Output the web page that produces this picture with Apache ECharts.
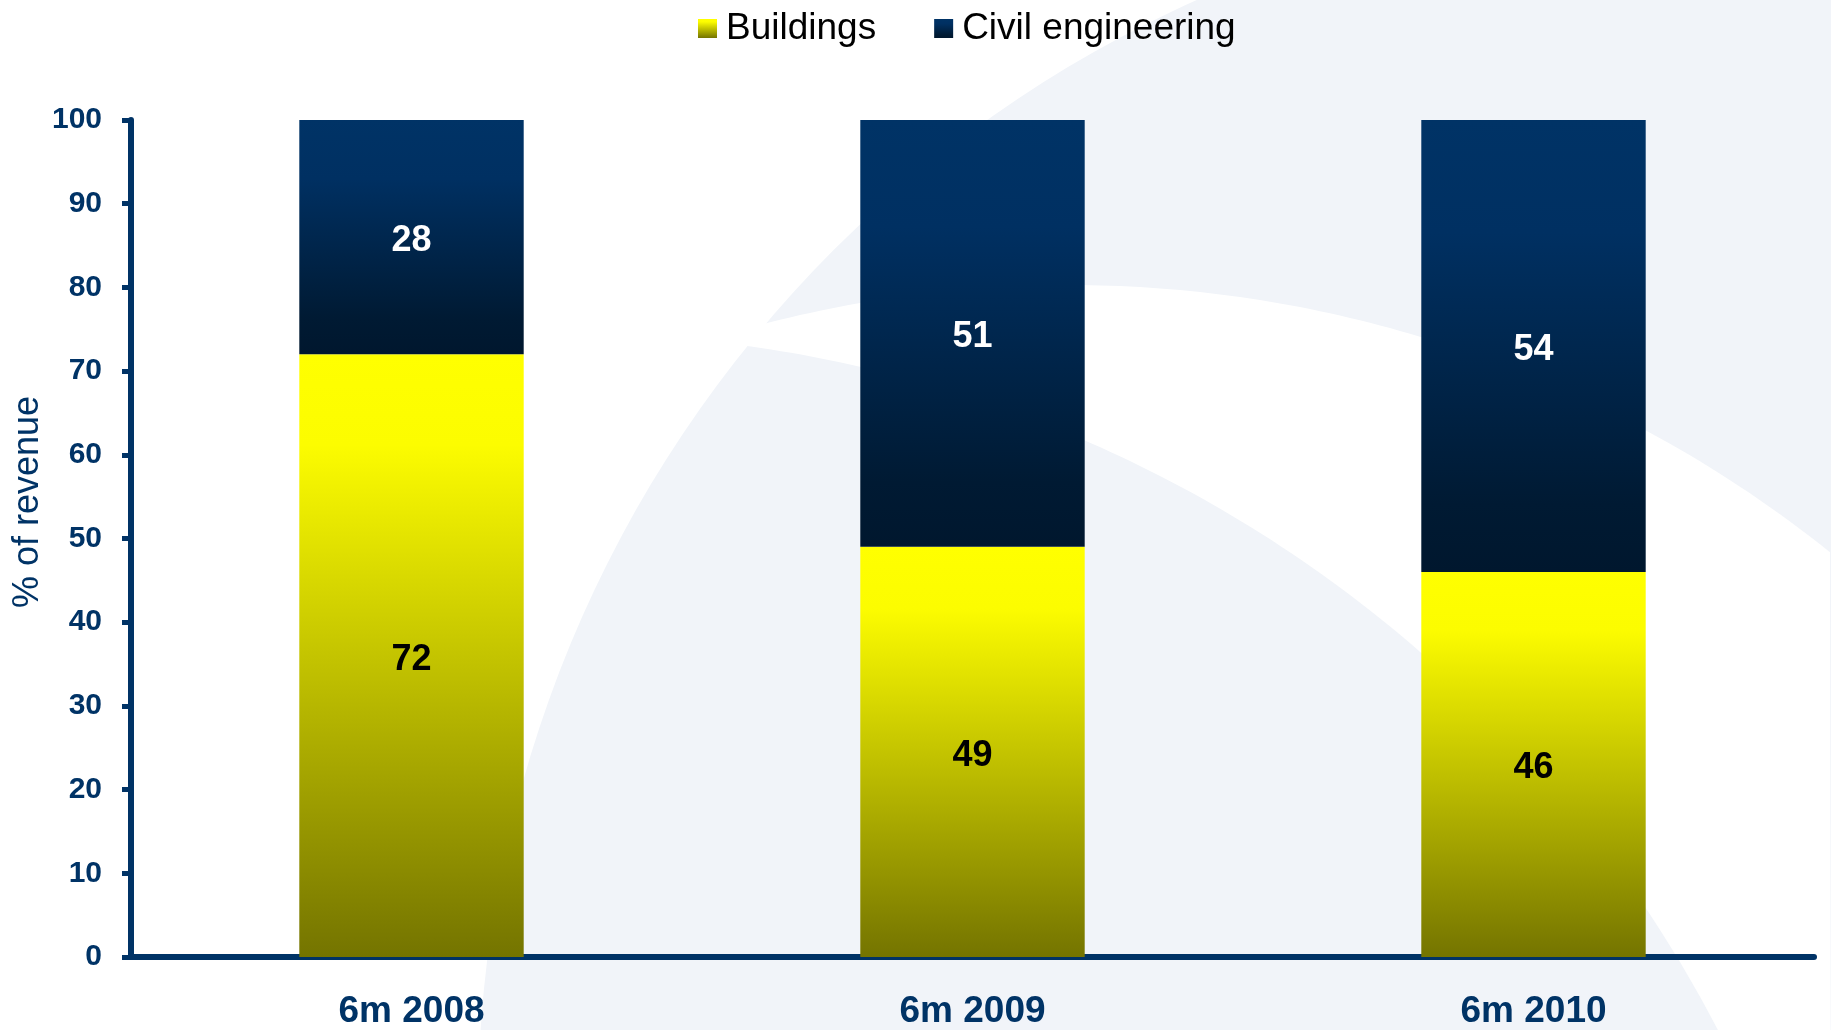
<!DOCTYPE html>
<html>
<head>
<meta charset="utf-8">
<script src="https://cdn.jsdelivr.net/npm/echarts@6/dist/echarts.min.js"></script>
<style>
  html, body { margin: 0; padding: 0; background: #fff; }
  #chart { width: 1831px; height: 1030px; }
</style>
</head>
<body>
<div id="chart"></div>
<script>
const categories = ["6m 2008", "6m 2009", "6m 2010"];
const buildings = [72, 49, 46];
const civilEngineering = [28, 51, 54];
const yTicks = { min: 0, max: 100, interval: 10 };

const navy = "#003366";
const font = "'Liberation Sans', Arial, sans-serif";

// background swoosh: sample two circle arcs into a band polygon
function arcY(cx, cy, r, x) {
  return cy - Math.sqrt(Math.max(r * r - (x - cx) * (x - cx), 0));
}
const band = [];
for (let x = 700; x <= 1831; x += 10) band.push([x, arcY(1069, 1502, 1217, x)]);
for (let x = 1831; x >= 700; x -= 10) band.push([x, Math.max(arcY(571, 1627, 1293, x), arcY(1069, 1502, 1217, x))]);

const chart = echarts.init(document.getElementById("chart"));
chart.setOption({
  backgroundColor: "#ffffff",
  animation: false,
  graphic: [
    { type: "circle", z: -10, silent: true, shape: { cx: 1693, cy: 1109, r: 1215 }, style: { fill: "#f1f4f9" } },
    { type: "polygon", z: -9, silent: true, shape: { points: band }, style: { fill: "#ffffff" } },
    {
      type: "text", x: 28, y: 502, rotation: Math.PI / 2,
      style: {
        text: "% of revenue", fill: navy, font: "36px " + font,
        textAlign: "center", textVerticalAlign: "middle"
      }
    }
  ],
  legend: {
    left: 693, top: 5,
    itemWidth: 19, itemHeight: 19, itemGap: 58,
    icon: "rect",
    textStyle: { fontSize: 37, color: "#000", fontFamily: font, padding: [0, 0, 0, 4] },
    data: ["Buildings", "Civil engineering"]
  },
  grid: { left: 131, right: 17, top: 120, bottom: 71 },
  xAxis: {
    type: "category",
    data: categories,
    axisLine: { lineStyle: { color: navy, width: 6 } },
    axisTick: { length: 10, lineStyle: { color: navy, width: 5 } },
    axisLabel: { color: navy, fontSize: 37, fontWeight: "bold", margin: 36, fontFamily: font }
  },
  yAxis: {
    type: "value",
    min: yTicks.min, max: yTicks.max, interval: yTicks.interval,
    splitLine: { show: false },
    axisLine: { show: true, lineStyle: { color: navy, width: 6 } },
    axisTick: { show: true, length: 9, lineStyle: { color: navy, width: 5 } },
    axisLabel: { color: navy, fontSize: 30, fontWeight: "bold", margin: 29, fontFamily: font }
  },
  series: [
    {
      name: "Buildings", type: "bar", stack: "total", barWidth: "40%",
      data: buildings,
      itemStyle: {
        color: new echarts.graphic.LinearGradient(0, 0, 0, 1, [
          { offset: 0, color: "#ffff00" },
          { offset: 0.15, color: "#fcfc00" },
          { offset: 1, color: "#747400" }
        ])
      },
      label: {
        show: true, position: "inside", offset: [0, 4], color: "#000",
        fontSize: 36, fontWeight: "bold", fontFamily: font
      }
    },
    {
      name: "Civil engineering", type: "bar", stack: "total", barWidth: "40%",
      data: civilEngineering,
      itemStyle: {
        color: new echarts.graphic.LinearGradient(0, 0, 0, 1, [
          { offset: 0, color: "#003366" },
          { offset: 0.25, color: "#003062" },
          { offset: 0.85, color: "#001a33" },
          { offset: 1, color: "#00172e" }
        ])
      },
      label: {
        show: true, position: "inside", offset: [0, 4], color: "#fff",
        fontSize: 36, fontWeight: "bold", fontFamily: font
      }
    }
  ]
});
</script>
</body>
</html>
